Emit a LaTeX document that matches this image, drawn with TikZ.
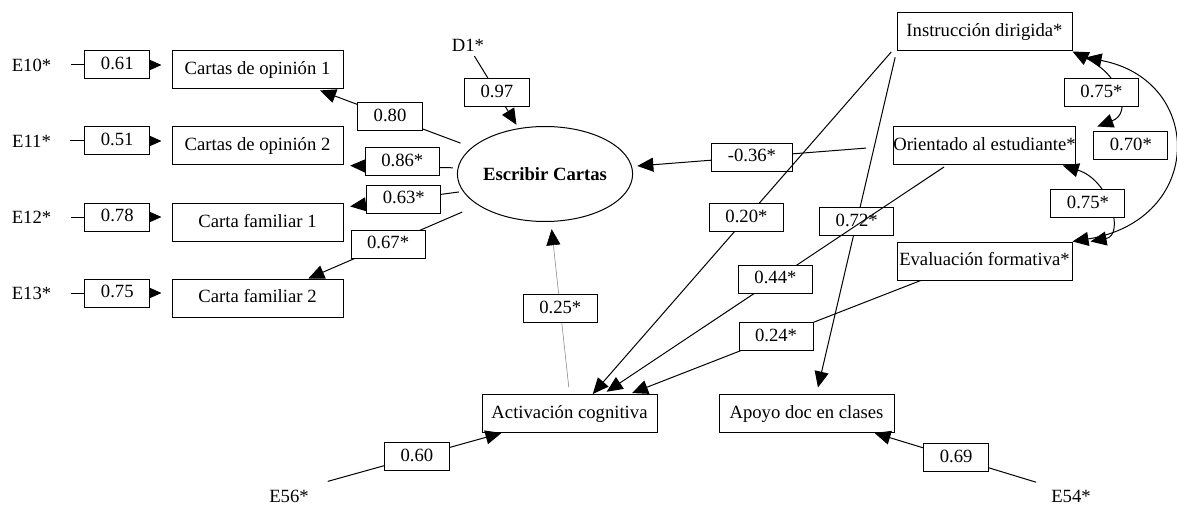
\documentclass[tikz,border=0pt]{standalone}
\usepackage{fontspec}
\setmainfont{Liberation Serif}
\usetikzlibrary{shapes.geometric,arrows.meta,calc}

\begin{document}
\begin{tikzpicture}[x=0.75pt, y=-0.75pt, line width=0.75pt,
  font=\fontsize{14}{16}\selectfont,
  obs/.style={draw, rectangle, minimum width=131.25pt, minimum height=28.5pt,
              inner xsep=0pt, text height=9.5pt, text depth=2.5pt},
  obsl/.style={obs, minimum width=128.25pt},
  lat/.style={draw, ellipse, minimum width=99pt, minimum height=71.25pt,
              inner sep=0pt, font=\fontsize{14}{16}\selectfont\bfseries},
  wt/.style={draw, fill=white, minimum height=21pt, inner xsep=12pt,
             inner ysep=0pt, text height=9.5pt, text depth=2.5pt},
  err/.style={inner sep=3.3pt},
  reg/.style={-{Triangle[length=12pt,width=10.5pt,color=black]}},
  cov/.style={{Triangle[length=12pt,width=10.5pt]}-{Triangle[length=12pt,width=10.5pt]}}]

\useasboundingbox (0,0) rectangle (1177,506);

% Escribir Cartas model

\node[obsl] (CO1) at (257.5,70) {Cartas de opinión 1};
\node[obsl] (CO2) at (257.5,146) {Cartas de opinión 2};
\node[obsl] (CF1) at (257.5,222.5) {Carta familiar 1};
\node[obsl] (CF2) at (257.5,298) {Carta familiar 2};
\node[lat] (EC) at (545,174) {Escribir Cartas};
\node[obs] (INS) at (984.5,32) {Instrucción dirigida*};
\node[obs] (ORI) at (984.5,146) {Orientado al estudiante*};
\node[obs] (EVA) at (984.5,261) {Evaluación formativa*};
\node[obs] (ACT) at (569.5,413.5) {Activación cognitiva};
\node[obs] (APO) at (806.5,413.5) {Apoyo doc en clases};

\node[err] (E10) at (31.5,65) {E10*};
\node[err] (E11) at (31.5,141) {E11*};
\node[err] (E12) at (31.5,217) {E12*};
\node[err] (E13) at (31.5,293) {E13*};
\node[err] (D1) at (468,45) {D1*};
\node[err] (E56) at (289,496.5) {E56*};
\node[err] (E54) at (1071,496.5) {E54*};

% errors
\foreach \e/\v/\w in {E10/CO1/0.61, E11/CO2/0.51, E12/CF1/0.78, E13/CF2/0.75}
    \draw[reg, shorten <=11pt, shorten >=7.5pt] (\e.east) -- (\e -| \v.west)
        node[wt, pos=.53] {\w};

\draw[reg, shorten >=3pt] (D1.-60) -- (EC.120) node[wt, pos=.51] {0.97};
\draw[reg, shorten <=11pt] (E56.north east) -- (ACT.196) node[wt, pos=.55] {0.60};
\draw[reg, shorten <=8pt] (E54.north west) -- (APO.-16) node[wt, pos=.525] {0.69};

% loadings
\draw[reg, shorten <=9pt, shorten >=2pt] (EC.160) -- (CO1.-18) node[wt, pos=.53] {0.80};
\draw[reg, shorten <=3.5pt, shorten >=5pt] (EC.176) -- (CO2.south east)
    node[wt, pos=.485, yshift=3.75pt] {0.86*};
\draw[reg, shorten <=3pt, shorten >=5pt] (EC.192) -- (CF1.10) node[wt, pos=.495] {0.63*};
\draw[reg, shorten <=13pt] (EC.205) -- (CF2.21) node[wt, pos=.53] {0.67*};

% paths
\draw[reg, shorten <=20pt, shorten >=4pt] (ORI.west) -- (EC.5) node[wt, pos=.54] {-0.36*};
\draw[reg, draw=gray, line width=0.4pt, shorten <=5pt, shorten >=5.5pt] (ACT.north) -- (EC.-83)
    node[wt, pos=.495, draw=black, line width=0.75pt] {0.25*};
\draw[reg, shorten <=6pt] (INS.189) -- (ACT.40) node[wt, pos=.494] {0.20*};
\draw[reg, shorten <=4.5pt, shorten >=5pt] (INS.south west) -- (APO.63) node[wt, pos=.497] {0.72*};
\draw[reg, shorten <=2pt, shorten >=3pt] (ORI.207) -- (ACT.30) node[wt, pos=.498] {0.44*};
\draw[reg, shorten >=2pt] (EVA.197) -- (ACT.18) node[wt, pos=.497] {0.24*};

% correlations
\draw[cov] (INS.south east) .. controls (1120,75) and (1133,113) .. ($(ORI.north east)+(21,0)$)
    node[wt, pos=.5, xshift=-11pt] {0.75*};
\draw[cov] ($(INS.south east)+(13,6)$) .. controls (1205,80) and (1205,220) .. (EVA.north east)
    node[wt, pos=.5, xshift=-32pt, yshift=3pt] {0.70*};
\draw[cov] (ORI.-14.5) .. controls (1110,180) and (1125,235) .. ($(EVA.north east)+(18,0)$)
    node[wt, pos=.5, xshift=-14.5pt, yshift=2pt] {0.75*};

\end{tikzpicture}
\end{document}
